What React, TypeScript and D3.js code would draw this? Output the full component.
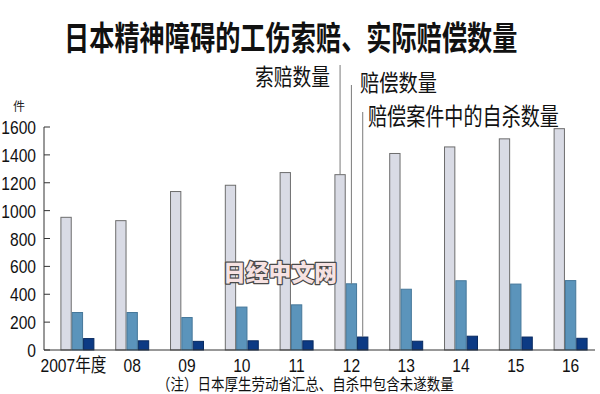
import React from 'react';
import * as d3 from 'd3';

const years = ['2007年度', '08', '09', '10', '11', '12', '13', '14', '15', '16'];
const claims = [952, 928, 1137, 1182, 1273, 1258, 1410, 1457, 1515, 1588];
const paid = [269, 269, 233, 308, 324, 475, 436, 497, 473, 498];
const suicides = [82, 66, 62, 66, 66, 93, 63, 99, 93, 84];
const seriesNames = ['索赔数量', '赔偿数量', '赔偿案件中的自杀数量'];
const yTicks = [0, 200, 400, 600, 800, 1000, 1200, 1400, 1600];

const fills = ['#d9dbe5', '#5b94bb', '#0c3a84'];
const strokes = ['#6d6d6d', '#46789a', '#082a60'];

const cjk = '"Noto Sans CJK SC", "Noto Sans", sans-serif';
const num = '"Liberation Sans", "Noto Sans CJK SC", sans-serif';

// tall, narrow text: font size sets the width, a vertical stretch sets the height
const Tall = ({ x, y, size, k, anchor = 'start', family = cjk, weight = 400, children }: any) => (
  <text transform={`translate(${x},${y}) scale(1,${k})`} textAnchor={anchor}
    fontFamily={family} fontWeight={weight} fontSize={size} fill="#111">
    {children}
  </text>
);

export default function App() {
  const width = 600;
  const height = 394;

  const x0 = d3.scaleBand<string>()
    .domain(years)
    .range([50, 598])
    .paddingInner(0.38)
    .paddingOuter(0.19);

  const x1 = d3.scaleBand<string>()
    .domain(seriesNames)
    .range([0, x0.bandwidth()]);

  const y = d3.scaleLinear().domain([0, 1600]).range([350, 127]);

  const rows = years.map((yr, i) => ({ yr, vals: [claims[i], paid[i], suicides[i]] }));

  // leader lines go down to the 2012 group
  const g12 = x0('12')!;
  const i12 = years.indexOf('12');
  const leaders = [
    { x: g12 + x1(seriesNames[0])! + x1.bandwidth() / 2, top: 65, v: claims[i12] },
    { x: g12 + x1(seriesNames[1])! + x1.bandwidth() / 2, top: 85, v: paid[i12] },
    { x: g12 + x1(seriesNames[2])! + x1.bandwidth() / 2, top: 112, v: suicides[i12] },
  ];

  return (
    <svg width={width} height={height} style={{ position: 'absolute', left: 0, top: 0, background: '#fff' }}>
      <rect width={width} height={height} fill="#fff" />
      <Tall x={64} y={50} size={25.2} k={1.3} weight={700}>日本精神障碍的工伤索赔、实际赔偿数量</Tall>

      {/* bars */}
      {rows.map((r) => (
        <g key={r.yr} transform={`translate(${x0(r.yr)},0)`}>
          {r.vals.map((v, j) => (
            <rect key={j}
              x={x1(seriesNames[j])! + 0.5}
              y={y(v)}
              width={x1.bandwidth() - 1}
              height={y(0) - y(v)}
              fill={fills[j]}
              stroke={strokes[j]}
              strokeWidth={1} />
          ))}
        </g>
      ))}

      {leaders.map((l, i) => (
        <line key={i} x1={l.x} x2={l.x} y1={l.top} y2={y(l.v)} stroke="#7a7a7a" strokeWidth={1} />
      ))}

      <Tall x={255} y={85} size={18.75} k={1.22}>{seriesNames[0]}</Tall>
      <Tall x={360} y={91} size={19.25} k={1.2}>{seriesNames[1]}</Tall>
      <Tall x={368} y={125} size={19.1} k={1.25}>{seriesNames[2]}</Tall>

      {/* y axis */}
      <line x1={44} x2={44} y1={y(1600)} y2={y(0)} stroke="#333" strokeWidth={1} />
      {yTicks.map((t) => (
        <g key={t}>
          <line x1={44} x2={50} y1={y(t)} y2={y(t)} stroke="#333" strokeWidth={1} />
          <Tall x={36} y={y(t) + 7} size={15.6} k={1.22} anchor="end" family={num}>{t}</Tall>
        </g>
      ))}
      <text x={19} y={111} textAnchor="middle" fontFamily={cjk} fontSize={12} fill="#222">件</text>

      {/* x axis */}
      <line x1={44} x2={595} y1={y(0)} y2={y(0)} stroke="#333" strokeWidth={1} />
      {years.map((yr, i) => (
        <Tall key={yr} x={x0(yr)! + x0.bandwidth() / 2 - (i === 0 ? 4 : 0)} y={372}
          size={15.6} k={1.22} anchor="middle" family={num}>{yr}</Tall>
      ))}

      <Tall x={157} y={390} size={13.5} k={1.18}>（注）日本厚生劳动省汇总、自杀中包含未遂数量</Tall>

      {/* watermark */}
      <text x={223} y={281} fontFamily={cjk} fontWeight={900} fontSize={22.8}
        fill="#f6e2e2" stroke="#4a4a4a" strokeWidth={2.5} paintOrder="stroke" strokeLinejoin="round">
        日经中文网
      </text>
    </svg>
  );
}
